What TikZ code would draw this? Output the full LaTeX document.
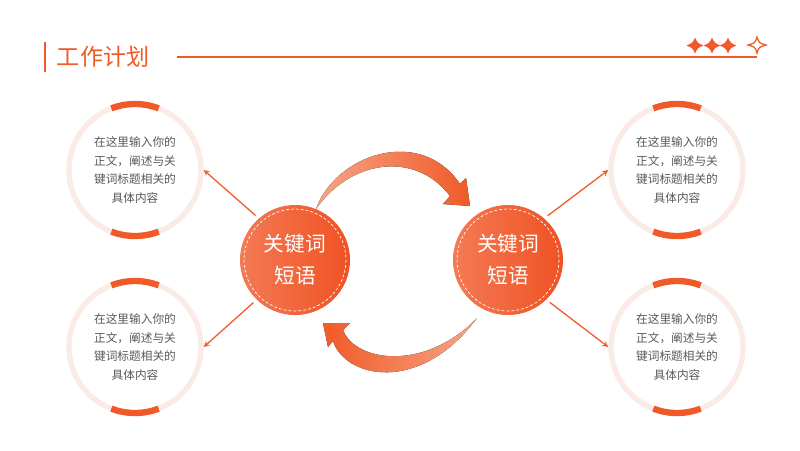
\documentclass[tikz,border=0pt]{standalone}
\usepackage{fontspec}
\newfontfamily\cjk{Noto Sans CJK SC}
\usetikzlibrary{arrows,positioning,calc}
\definecolor{planOrange}{HTML}{F05A28}
\definecolor{planLight}{HTML}{F7A587}
\definecolor{planRing}{HTML}{FAEBE6}
\definecolor{planText}{HTML}{595959}
\definecolor{keyTop}{HTML}{F47A55}
\definecolor{keyBottom}{HTML}{EF5223}

\begin{document}
\begin{tikzpicture}[x=0.025cm, y=-0.025cm,
    textcircle/.style={circle, draw=planRing, line width=3.8pt, fill=white, minimum size=3.3cm, inner sep=0pt, align=center, font=\cjk\fontsize{8.3}{13.2}\selectfont, text=planText},
    keycircle/.style={circle, minimum size=2.75cm, inner sep=0pt, align=center, left color=keyTop, right color=keyBottom, font=\cjk\fontsize{14.7}{22.7}\selectfont, text=white},
    ringarc/.style={draw=planOrange, line width=4.5pt},
    link/.style={->, >=stealth, draw=planOrange, line width=0.9pt},
    sparkle/.style={line width=0.9pt, draw=planOrange}
]
\useasboundingbox[fill=white] (0,0) rectangle (800,450);

% Header
\draw[planOrange, line width=1.3pt] (45,42) -- (45,72);
\node[anchor=west, text=planOrange, font=\cjk\fontsize{16.4}{18}\selectfont] (title) at (52,57) {工作计划};
\draw[planOrange, line width=1.1pt] (177,57) -- (757,57);
\foreach \sx in {695,712,728}
  \fill[planOrange, shift={(\sx,45.5)}] (0,-8) .. controls (2.5,-2.5) .. (8.5,0) .. controls (2.5,2.5) .. (0,8) .. controls (-2.5,2.5) .. (-8.5,0) .. controls (-2.5,-2.5) .. cycle;
\filldraw[sparkle, fill=white, shift={(757,45)}] (0,-8) .. controls (2,-2) .. (9,0) .. controls (2,2) .. (0,8) .. controls (-2,2) .. (-9,0) .. controls (-2,-2) .. cycle;

% Key words in the middle
\node[keycircle] (kl) at (295,260) {关键词\\短语};
\node[keycircle] (kr) at (508,260) {关键词\\短语};
\foreach \k in {kl,kr}
  \draw[white, dash pattern=on 2pt off 1.5pt, line width=0.5pt] (\k.center) circle[radius=51];

% Text circles
\node[textcircle] (tl) at (135,170) {在这里输入你的\\正文，阐述与关\\键词标题相关的\\具体内容};
\node[textcircle] (bl) at (135,347) {在这里输入你的\\正文，阐述与关\\键词标题相关的\\具体内容};
\node[textcircle] (tr) at (677,170) {在这里输入你的\\正文，阐述与关\\键词标题相关的\\具体内容};
\node[textcircle] (br) at (677,347) {在这里输入你的\\正文，阐述与关\\键词标题相关的\\具体内容};
\foreach \c in {tl,bl,tr,br} {
  \draw[ringarc] (\c.center) ++(249:66) arc[start angle=249, end angle=291, radius=66];
  \draw[ringarc] (\c.center) ++(69:66) arc[start angle=69, end angle=111, radius=66];
}

% Links
\draw[link, shorten <=3pt] (kl.131) -- (tl.east);
\draw[link, shorten <=3pt] (kl.226) -- (bl.east);
\draw[link, shorten <=3pt] (kr.49) -- (tr.west);
\draw[link, shorten <=3pt] (kr.314) -- (br.west);

% Curved arrows
\fill[left color=planLight, right color=planOrange] (316,209) .. controls (335,155) and (420,125) .. (460,184) -- (466,178) -- (470,206) -- (443,204) -- (450,196) .. controls (415,150) and (350,160) .. (316,209) -- cycle;
\fill[left color=planOrange, right color=planLight] (477,318) .. controls (420,395) and (345,378) .. (333,341) -- (328,347) -- (323,323) -- (350,323) -- (343,330) .. controls (355,362) and (425,372) .. (477,318) -- cycle;
\end{tikzpicture}
\end{document}
